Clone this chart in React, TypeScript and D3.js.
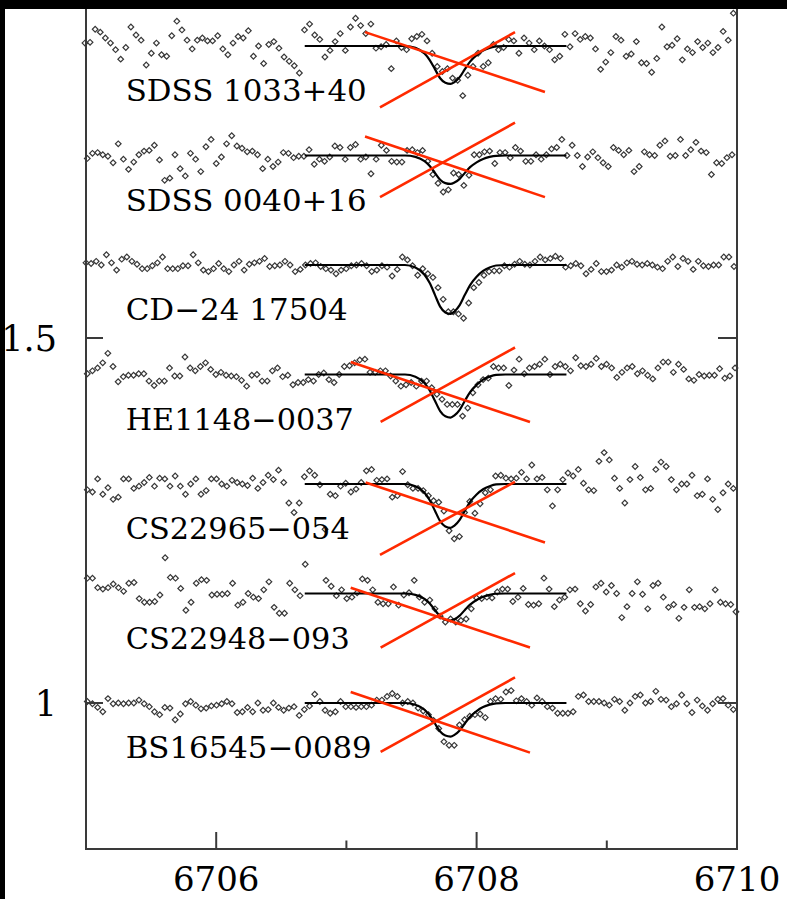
import React from 'react';
import * as d3 from 'd3';

// ---------- data ----------
const starNames = ['SDSS 1033+40', 'SDSS 0040+16', 'CD\u221224 17504', 'HE1148\u22120037', 'CS22965\u2212054', 'CS22948\u2212093', 'BS16545\u22120089'];
const continuumLevels = [1.9, 1.75, 1.6, 1.45, 1.3, 1.15, 1.0];
const waveFirst = [6704.992, 6705.010, 6705.000, 6705.010, 6705.010, 6705.010, 6705.010];
const waveLast = [6709.972, 6709.962, 6709.977, 6709.985, 6709.972, 6709.992, 6709.972];

const flux1 = [
  1.004, 1.005, 1.023, 1.019, 1.011, 1.004, 0.995, 0.982, 0.998, 1.026,
  1.015, 1.008, 0.974, 0.990, 1.004, 0.988, 0.986, 1.014, 1.034, 1.022,
  1.008, 0.996, 1.008, 1.011, 1.007, 1.007, 1.014, 0.996, 0.988, 1.004,
  1.013, 1.011, 1.021, 0.986, 1.000, 0.976, 1.002, 1.006, 0.997, 0.985,
  0.979, 0.973, 0.963, 1.022, 1.030, 1.015, 1.009, 0.985, 0.994, 1.006,
  1.017, 0.994, 1.026, 1.038, 1.028, 1.017, 1.030, 0.997, 0.999,
  1.002, 0.969, 1.007, 0.998, 0.995, 1.010, 1.013, 1.016, 1.007, 0.990,
  0.972, 0.965, 0.969, 0.956, 0.953, 0.932, 0.960, 0.972, 0.990, 0.972,
  0.977, 1.002, 0.995, 0.998, 1.009, 1.007, 0.990, 1.011, 1.004, 0.995,
  1.007, 1.000, 0.995, 0.981, 0.986, 1.016, 0.999, 1.017, 1.009, 1.013,
  1.011, 0.996, 0.968, 0.978, 0.991, 1.013, 1.008, 0.986, 0.989, 1.006,
  0.977, 0.976, 0.964, 0.983, 1.026, 0.999, 1.001, 1.010, 0.981, 0.996,
  0.991, 1.006, 0.998, 1.004, 0.991, 0.998, 1.020, 1.008, 1.045,
];
const flux2 = [
  0.996, 1.003, 1.004, 1.001, 0.999, 0.990, 1.016, 0.995, 0.981, 0.991,
  1.001, 1.006, 1.007, 1.014, 0.994, 0.966, 0.969, 1.001, 0.982, 0.972,
  1.003, 0.995, 0.978, 1.012, 1.022, 0.989, 0.998, 1.016, 1.027, 1.013,
  1.010, 1.005, 1.006, 1.001, 0.982, 0.995, 0.985, 0.991, 1.004, 1.003,
  0.997, 0.999, 0.999, 1.008, 0.988, 0.995, 0.992, 0.998, 1.013, 1.011,
  0.995, 1.011, 1.015, 0.995, 0.998, 0.975, 0.995,
  1.014, 1.007, 0.992, 0.991, 0.991, 1.007, 1.008, 1.004, 1.007, 0.992,
  0.974, 0.962, 0.950, 0.953, 0.976, 0.974, 0.959, 0.973, 1.001, 1.001,
  1.005, 1.006, 0.989, 1.004, 1.004, 0.997, 1.011, 1.006, 0.992, 0.992,
  1.001, 0.995, 1.001, 1.009, 1.011, 1.022, 1.000, 1.014, 1.000, 0.985,
  0.998, 1.005, 0.997, 0.990, 0.985, 1.011, 1.007, 1.001, 1.007, 0.978,
  0.985, 1.005, 1.001, 1.000, 1.014, 1.020, 0.999, 1.000, 1.022, 1.000,
  1.008, 1.018, 1.006, 1.004, 0.974, 0.990, 0.989, 0.997, 1.001,
];
const flux3 = [
  1.003, 1.002, 1.005, 1.000, 1.014, 1.003, 0.993, 1.008, 1.011, 1.005,
  1.001, 0.995, 0.995, 0.999, 1.003, 1.011, 0.995, 0.995, 0.995, 0.999,
  0.999, 1.014, 1.003, 0.993, 0.991, 0.995, 1.002, 0.995, 0.991, 1.000,
  1.005, 0.993, 1.001, 1.003, 1.005, 1.009, 0.998, 0.999, 1.000, 1.005,
  1.000, 0.991, 0.994, 1.000, 1.002, 1.003, 0.998, 0.995, 0.993, 0.988,
  0.993, 0.995, 0.999, 1.000, 1.002, 0.999, 0.991, 0.993, 0.999,
  0.997, 0.985, 0.994, 1.011, 1.007, 0.999, 0.986, 0.995, 0.988, 0.983,
  0.969, 0.953, 0.936, 0.936, 0.933, 0.927, 0.948, 0.969, 0.976, 0.986,
  0.991, 0.992, 0.992, 0.999, 0.997, 1.001, 1.005, 1.001, 1.000, 1.005,
  1.011, 1.007, 1.009, 1.012, 1.009, 0.997, 0.999, 1.002, 0.999, 0.988,
  0.994, 1.002, 0.991, 0.991, 0.993, 1.000, 0.997, 1.003, 1.005, 1.001,
  1.000, 1.002, 1.000, 0.997, 0.995, 1.005, 1.011, 0.998, 1.009, 1.005,
  0.994, 1.005, 0.999, 0.998, 1.000, 1.000, 1.011, 1.011, 0.998,
];
const flux4 = [
  1.001, 1.005, 1.009, 1.016, 1.029, 1.011, 0.990, 0.997, 0.999, 0.999,
  1.001, 1.001, 0.991, 0.985, 0.991, 0.991, 1.009, 0.998, 0.998, 1.024,
  1.009, 1.005, 1.011, 1.016, 1.007, 1.000, 1.003, 0.999, 0.998, 0.997,
  0.992, 0.984, 0.999, 1.000, 0.991, 0.991, 1.005, 1.009, 0.997, 0.999,
  0.986, 0.989, 0.989, 0.993, 0.991, 1.000, 1.002, 0.993, 0.989, 1.000,
  1.011, 1.012, 1.016, 1.020, 1.021, 1.003, 1.003, 1.005,
  1.005, 0.998, 0.991, 0.984, 0.986, 0.989, 0.984, 0.991, 0.991, 0.982,
  0.973, 0.966, 0.959, 0.959, 0.959, 0.943, 0.954, 0.975, 0.986,
  0.993, 0.995, 1.011, 1.009, 1.009, 0.985, 1.006, 1.021, 1.001, 1.009,
  1.011, 1.014, 1.021, 1.000, 1.011, 1.014, 1.011, 1.005, 1.023, 1.012,
  1.011, 1.014, 1.022, 1.011, 1.014, 1.009, 0.996, 1.003, 1.009, 1.011,
  1.001, 1.005, 0.999, 0.994, 1.009, 1.017, 1.017, 1.003, 1.014, 1.007,
  0.994, 0.992, 1.000, 0.998, 0.999, 0.999, 1.008, 0.995, 0.998, 1.009,
];
const flux5 = [
  0.992, 0.989, 1.007, 0.986, 0.995, 0.979, 0.982, 1.007, 1.007, 0.994,
  0.997, 1.002, 1.009, 0.997, 1.008, 1.007, 0.997, 1.011, 0.997, 0.986,
  1.000, 1.007, 0.986, 0.991, 1.007, 1.007, 1.000, 0.997, 1.005, 1.002,
  1.000, 0.998, 1.008, 0.994, 1.002, 1.012, 1.006, 1.019, 1.002, 0.974,
  0.961, 0.974, 1.010, 1.018, 1.012, 0.999, 0.938, 0.986, 0.984, 0.997,
  1.001, 0.989, 0.993, 1.002, 1.018, 1.020, 1.005, 1.006,
  1.007, 0.982, 0.984, 1.017, 0.999, 0.994, 0.994, 0.991, 0.984, 0.977,
  0.975, 0.963, 0.936, 0.925, 0.928, 0.961, 0.976, 0.960, 0.973, 0.988,
  0.992, 1.011, 1.012, 1.008, 1.007, 1.008, 1.016, 1.007, 1.026, 1.007,
  1.009, 0.992, 0.970, 0.992, 1.006, 1.015, 1.011, 1.020, 1.001, 0.992,
  0.991, 1.031, 1.043, 1.033, 1.008, 0.994, 0.974, 1.006, 1.024, 1.009,
  0.992, 0.994, 1.020, 1.030, 1.024, 1.006, 0.992, 1.000, 1.000, 1.012,
  0.984, 0.986, 1.007, 0.979, 0.965, 0.988, 1.000, 0.994,
];
const flux6 = [
  1.021, 1.021, 1.008, 1.006, 1.008, 1.013, 1.008, 1.003, 1.014, 1.015,
  0.993, 0.988, 0.988, 0.989, 0.998, 1.049, 1.022, 1.021, 1.007, 0.977,
  0.988, 1.014, 1.019, 1.018, 0.998, 0.999, 0.999, 1.000, 1.014, 0.984,
  0.988, 1.000, 0.995, 0.993, 1.005, 1.016, 0.981, 0.973, 0.973,
  1.014, 1.005, 0.997, 1.040, null, null, null,
  1.018, 1.010, 0.997, 1.005, 0.993, 0.995, 1.001, 1.020, 1.018, 1.005,
  0.988, 0.986, 0.986, 1.009, 0.984, 0.998, 1.001, 1.018, 0.995, 0.988,
  0.991, 0.979, 0.969, 0.961, 0.965, 0.961, 0.963, 0.965, 0.979, 0.994,
  0.993, 0.995, 0.994, 1.002, 1.006, 1.006, 0.989, 0.995, 1.007, 0.985,
  0.984, 0.986, 1.021, 1.006, 0.982, 0.991, 0.995, 1.005, 1.006,
  0.986, 0.976, 0.985, 1.009, 1.014, 1.002, 1.011, 1.000, 0.967, 0.982,
  1.000, 1.016, 0.999, 0.979, 1.011, 1.014, 0.995, 0.981, 0.985, 0.966,
  0.981, 1.005, 0.981, 0.982, 0.979, 0.986, 1.005, 0.988, 0.986, 0.985,
  0.975,
];
const flux7 = [
  1.002, 0.999, 0.994, 0.988, 1.006, 0.999, 1.000, 0.999, 1.000, 1.000,
  1.004, 0.999, 0.995, 0.988, 0.984, 0.994, 0.993, 0.977, 0.985, 0.999,
  1.002, 0.997, 0.992, 0.993, 0.996, 0.997, 0.999, 1.002, 0.999, 0.987,
  0.988, 0.994, 0.988, 1.000, 0.990, 0.991, 1.000, 0.994, 0.990, 0.993,
  0.995, 0.983, 0.991, 0.996, 1.012, 1.002, 0.990, 0.986, 0.988, 1.002,
  0.995, 0.995, 0.994, 0.995, 0.995, 0.997, 1.004,
  1.004, 1.009, 1.013, 1.009, 1.000, 1.002, 1.000, 0.993, 0.989, 0.984,
  0.976, 0.965, 0.947, 0.942, 0.942, 0.970, 0.977, 0.982, 0.984, 0.985,
  0.980, 1.002, 1.006, 1.005, 1.015, 1.017, 1.003, 1.006, 1.002, 0.997,
  1.007, 1.002, 0.995, 0.993, 0.986, 0.986, 0.986, 0.988, 1.009, 1.011,
  1.002, 1.002, 1.002, 1.000, 0.997, 1.005, 1.002, 0.990, 1.000, 1.009,
  1.011, 1.000, 1.002, 1.016, 1.005, 1.004, 0.995, 0.999, 1.011, 0.999,
  0.987, 1.004, 0.996, 0.990, 0.999, 1.005, 1.006, 0.997, 0.991,
];
const fluxes = [flux1, flux2, flux3, flux4, flux5, flux6, flux7];

// synthetic Li line: profile shape (fraction of depth) read from the plot, and depth per star
const profileWave = [6706.68, 6707.45, 6707.53, 6707.60, 6707.64, 6707.68, 6707.72, 6707.76, 6707.80, 6707.83, 6707.87, 6707.91, 6707.95, 6708.00, 6708.05, 6708.10, 6708.15, 6708.22, 6708.69];
const profileShape = [0, 0, 0.05, 0.20, 0.37, 0.61, 0.85, 0.97, 1.0, 0.95, 0.82, 0.61, 0.41, 0.24, 0.12, 0.05, 0.01, 0, 0];
const lineDepth = [0.052, 0.039, 0.067, 0.059, 0.060, 0.037, 0.046];

// red crosses: [wave1, flux1, wave2, flux2]
const crossDown = [
  [6707.143, 1.919, 6708.525, 1.837],
  [6707.143, 1.776, 6708.525, 1.693],
  null,
  [6707.033, 1.467, 6708.410, 1.385],
  [6707.148, 1.302, 6708.525, 1.220],
  [6707.033, 1.158, 6708.410, 1.076],
  [6707.033, 1.015, 6708.410, 0.932],
];
const crossUp = [
  [6707.258, 1.816, 6708.295, 1.919],
  [6707.258, 1.693, 6708.295, 1.795],
  null,
  [6707.263, 1.385, 6708.295, 1.487],
  [6707.258, 1.203, 6708.295, 1.303],
  [6707.263, 1.076, 6708.295, 1.178],
  [6707.263, 0.933, 6708.295, 1.035],
];

const xMajorTicks = [6706, 6708, 6710];
const xMinorTicks = [6707, 6709];
const yMajorTicks = [1, 1.5];
const yTickLabels = ['1', '1.5'];

// ---------- layout / style ----------
const W = 787;
const H = 899;
const x = d3.scaleLinear().domain([6705, 6710]).range([86, 737]);
const y = d3.scaleLinear().domain([0.8, 2.0]).range([849, -27]);
const FONT = '"DejaVu Serif", serif';
const AXIS = '#3a3a3a';
const labelPixelWidths = [241, 241, 222, 228, 224, 224, 246];

export default function App() {
  const diamond = d3.symbol().type(d3.symbolSquare).size(16)() as string;
  const fitLine = d3.line<[number, number]>().x((d) => x(d[0])).y((d) => y(d[1])).curve(d3.curveMonotoneX);

  return (
    <svg width={W} height={H} style={{ position: 'absolute', left: 0, top: 0, background: '#fff' }} xmlns="http://www.w3.org/2000/svg">
      <rect x={0} y={0} width={W} height={H} fill="#fff" />
      {/* spectra points */}
      {fluxes.map((fl, s) => {
        const n = fl.length;
        const wx = d3.scaleLinear().domain([0, n - 1]).range([waveFirst[s], waveLast[s]]);
        const off = continuumLevels[s] - 1;
        return (
          <g key={'pts' + s}>
            {fl.map((v, i) =>
              v == null ? null : (
                <path key={i} d={diamond} transform={`translate(${x(wx(i))},${y(v + off)}) rotate(45)`} fill="none" stroke="#383838" strokeWidth={1.2} />
              )
            )}
          </g>
        );
      })}
      {/* synthetic fits */}
      {continuumLevels.map((c, s) => {
        const pts: [number, number][] = profileWave.map((w, i) => [w, c - lineDepth[s] * profileShape[i]]);
        return <path key={'fit' + s} d={fitLine(pts) as string} fill="none" stroke="#000" strokeWidth={2.2} />;
      })}
      {/* labels */}
      {starNames.map((nm, s) => (
        <text
          key={'lab' + s}
          x={x(6705.305)}
          y={y(continuumLevels[s] - 0.0755)}
          fontFamily={FONT}
          fontSize={30}
          fill="#000"
          textLength={labelPixelWidths[s]}
          lengthAdjust="spacingAndGlyphs"
        >
          {nm}
        </text>
      ))}
      {/* red crosses */}
      {crossDown.map((c, s) =>
        c ? <line key={'cd' + s} x1={x(c[0])} y1={y(c[1])} x2={x(c[2])} y2={y(c[3])} stroke="#ff2a00" strokeWidth={2.6} /> : null
      )}
      {crossUp.map((c, s) =>
        c ? <line key={'cu' + s} x1={x(c[0])} y1={y(c[1])} x2={x(c[2])} y2={y(c[3])} stroke="#ff2a00" strokeWidth={2.6} /> : null
      )}
      {/* frame */}
      <rect x={x(6705)} y={y(2.0)} width={x(6710) - x(6705)} height={y(0.8) - y(2.0)} fill="none" stroke={AXIS} strokeWidth={2} />
      {xMajorTicks.map((t) => (
        <line key={'xM' + t} x1={x(t)} x2={x(t)} y1={y(0.8)} y2={y(0.8) - 17} stroke={AXIS} strokeWidth={2} />
      ))}
      {xMinorTicks.map((t) => (
        <line key={'xm' + t} x1={x(t)} x2={x(t)} y1={y(0.8)} y2={y(0.8) - 8.5} stroke={AXIS} strokeWidth={2} />
      ))}
      {yMajorTicks.map((t) => (
        <g key={'yM' + t}>
          <line x1={x(6705)} x2={x(6705) + 17} y1={y(t)} y2={y(t)} stroke={AXIS} strokeWidth={2} />
          <line x1={x(6710)} x2={x(6710) - 19} y1={y(t)} y2={y(t)} stroke={AXIS} strokeWidth={2} />
        </g>
      ))}
      {xMajorTicks.map((t) => (
        <text key={'xl' + t} x={x(t)} y={891} textAnchor="middle" fontFamily={FONT} fontSize={34} fill="#000">
          {t}
        </text>
      ))}
      {yMajorTicks.map((t, i) => (
        <text key={'yl' + t} x={57} y={y(t) + 12.5} textAnchor="end" fontFamily={FONT} fontSize={35} fill="#000">
          {yTickLabels[i]}
        </text>
      ))}
      {/* black screen borders */}
      <rect x={0} y={0} width={W} height={9} fill="#000" />
      <rect x={0} y={0} width={5} height={H} fill="#000" />
    </svg>
  );
}
